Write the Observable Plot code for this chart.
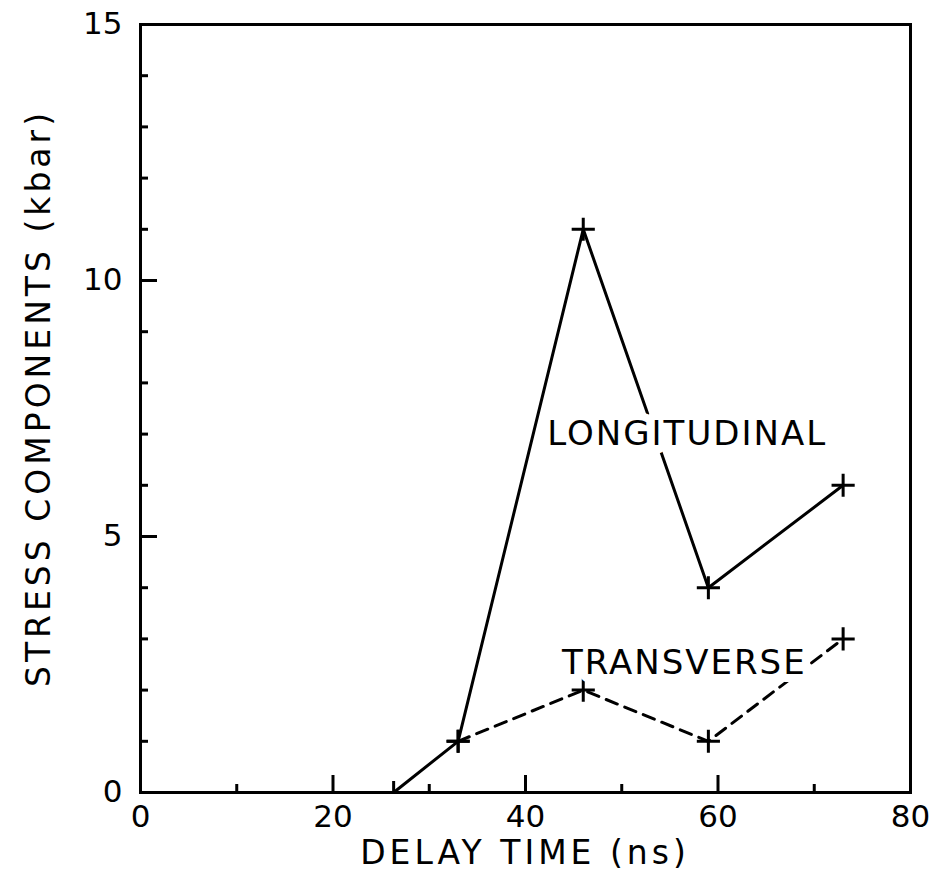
<!DOCTYPE html>
<html>
<head>
<meta charset="utf-8">
<script src="https://cdn.jsdelivr.net/npm/d3@7"></script>
<script src="https://cdn.jsdelivr.net/npm/@observablehq/plot@0.6"></script>
<style>
  html, body { margin: 0; padding: 0; background: #fff; }
  #chart svg { display: block; }
</style>
</head>
<body>
<div id="chart"></div>
<script>
// Delay times (ns) and stress components (kbar)
const longTime = [26.3, 33, 46, 59, 73];
const longStress = [0, 1, 11, 4, 6];
const transTime = [33, 46, 59, 73];
const transStress = [1, 2, 1, 3];

const xMajor = [0, 20, 40, 60, 80];
const xMinor = [10, 30, 50, 70];
const yMajor = [0, 5, 10, 15];
const yMinor = [1, 2, 3, 4, 6, 7, 8, 9, 11, 12, 13, 14];

const seriesLabels = ["LONGITUDINAL", "TRANSVERSE"];
const labelTime = [56.8, 56.5];
const labelStress = [7.0, 2.53];

const longitudinal = longTime.map((t, i) => ({time: t, stress: longStress[i]}));
const transverse = transTime.map((t, i) => ({time: t, stress: transStress[i]}));
const labels = seriesLabels.map((s, i) => ({text: s, time: labelTime[i], stress: labelStress[i]}));

const font = "DejaVu Sans, Liberation Sans, sans-serif";

const chart = Plot.plot({
  width: 939,
  height: 875,
  marginLeft: 140,
  marginRight: 29,
  marginTop: 24,
  marginBottom: 83,
  style: {fontFamily: font, fontSize: "31px", background: "#fff", color: "#000"},
  x: {domain: [0, 80], label: null},
  y: {domain: [0, 15], label: null},
  marks: [
    // tick labels
    Plot.axisX(xMajor, {tickSize: 0, tickPadding: 12, fontSize: 31, tickFormat: "d", label: null}),
    Plot.axisY(yMajor, {tickSize: 0, tickPadding: 18, fontSize: 31, tickFormat: "d", label: null}),
    // inward ticks
    Plot.axisX(xMajor, {tickSize: -17, strokeWidth: 3, fill: "none", label: null}),
    Plot.axisX(xMinor, {tickSize: -8, strokeWidth: 3, fill: "none", label: null}),
    Plot.axisY(yMajor, {tickSize: -17, strokeWidth: 3, fill: "none", label: null}),
    Plot.axisY(yMinor, {tickSize: -8, strokeWidth: 3, fill: "none", label: null}),
    Plot.frame({stroke: "#000", strokeWidth: 3}),
    // series
    Plot.line(longitudinal, {x: "time", y: "stress", stroke: "#000", strokeWidth: 3}),
    Plot.line(transverse, {x: "time", y: "stress", stroke: "#000", strokeWidth: 3, strokeDasharray: "12,8"}),
    Plot.dot(longitudinal, {x: "time", y: "stress", symbol: "plus", r: 7.5, stroke: "#000", strokeWidth: 3, clip: "frame"}),
    Plot.dot(transverse, {x: "time", y: "stress", symbol: "plus", r: 7.5, stroke: "#000", strokeWidth: 3}),
    // series labels, with a white halo that breaks the lines behind them
    Plot.text(labels, {x: "time", y: "stress", text: "text", fontSize: 34, fill: "#000", stroke: "#fff", strokeWidth: 16})
  ]
});

const svg = d3.select(chart);

// wider tracking for the series labels
svg.selectAll("text")
  .filter(function () { return seriesLabels.includes(this.textContent); })
  .attr("letter-spacing", 2);

// axis titles
svg.append("text")
  .attr("x", 525).attr("y", 852)
  .attr("text-anchor", "middle").attr("dominant-baseline", "central")
  .attr("font-family", font).attr("font-size", 33)
  .attr("letter-spacing", 4)
  .text("DELAY TIME (ns)");
svg.append("text")
  .attr("transform", "translate(38,398) rotate(-90)")
  .attr("text-anchor", "middle").attr("dominant-baseline", "central")
  .attr("font-family", font).attr("font-size", 33)
  .attr("letter-spacing", 4)
  .text("STRESS COMPONENTS (kbar)");

document.getElementById("chart").appendChild(chart);
</script>
</body>
</html>
